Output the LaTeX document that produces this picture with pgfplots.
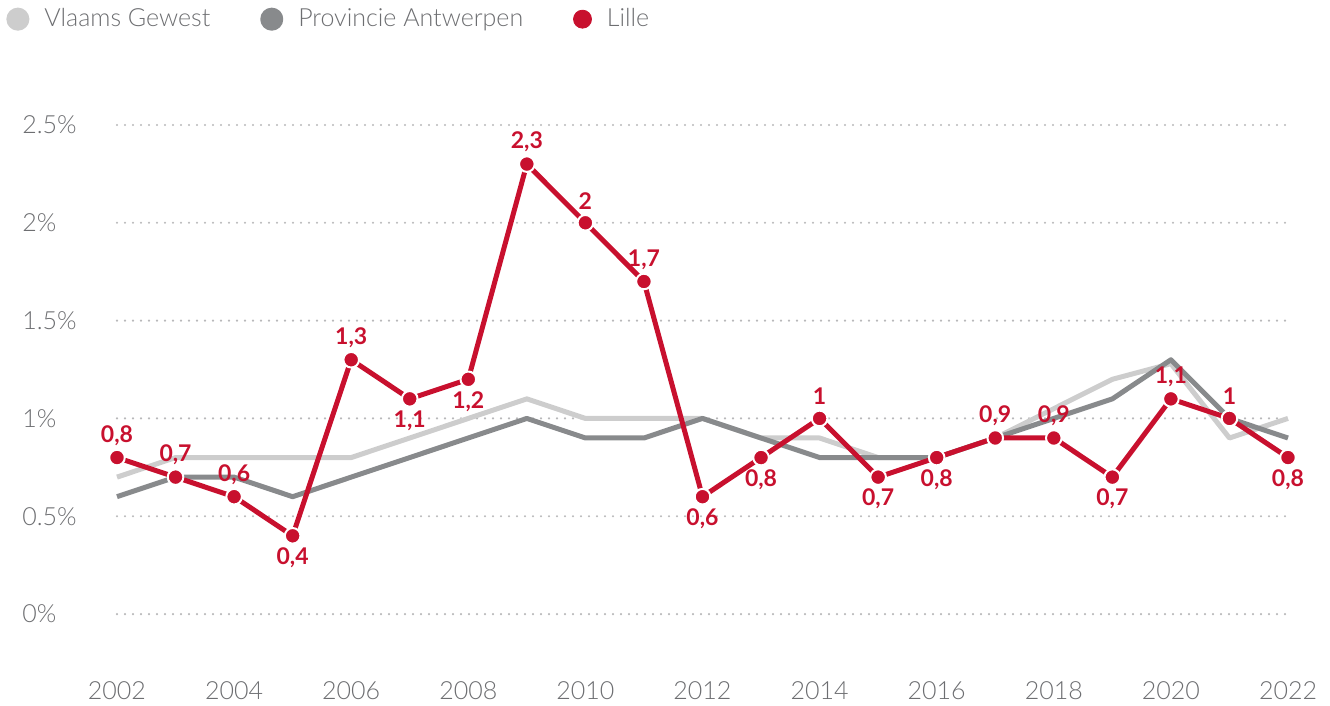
\documentclass[border=0pt]{standalone}
\usepackage{fontspec}
\setmainfont{Lato}[UprightFont=* Light, BoldFont=* Bold]
\usepackage{pgfplots}
\usepackage{pgfplotstable}
\pgfplotsset{compat=1.18}
\definecolor{vg}{HTML}{CDCDCD}
\definecolor{pa}{HTML}{888A8C}
\definecolor{li}{HTML}{C8102E}
\definecolor{txt}{HTML}{6D6E71}
\definecolor{grd}{HTML}{B8B8BA}
\pgfplotstableread{
x vg pa li pos lab
2002 0.7 0.6 0.8 1 0,8
2003 0.8 0.7 0.7 1 0,7
2004 0.8 0.7 0.6 1 0,6
2005 0.8 0.6 0.4 -1 0,4
2006 0.8 0.7 1.3 1 1,3
2007 0.9 0.8 1.1 -1 1,1
2008 1.0 0.9 1.2 -1 1,2
2009 1.1 1.0 2.3 1 2,3
2010 1.0 0.9 2.0 1 2
2011 1.0 0.9 1.7 1 1,7
2012 1.0 1.0 0.6 -1 0,6
2013 0.9 0.9 0.8 -1 0,8
2014 0.9 0.8 1.0 1 1
2015 0.8 0.8 0.7 -1 0,7
2016 0.8 0.8 0.8 -1 0,8
2017 0.9 0.9 0.9 1 0,9
2018 1.05 1.0 0.9 1 0,9
2019 1.2 1.1 0.7 -1 0,7
2020 1.28 1.3 1.1 1 1,1
2021 0.9 1.0 1.0 1 1
2022 1.0 0.9 0.8 -1 0,8
}\data
\begin{document}
\begin{tikzpicture}
\useasboundingbox (0,0) rectangle (665pt,353pt);
\begin{axis}[
  at={(58.5pt,21.5pt)}, anchor=south west,
  scale only axis, width=585.5pt, height=278.8pt,
  xmin=2002, xmax=2022, ymin=-0.25, ymax=2.6,
  clip=false,
  axis line style={draw=none},
  major tick length=0pt,
  xtick={2002,2004,...,2022},
  xticklabels={2002,2004,2006,2008,2010,2012,2014,2016,2018,2020,2022},
  ytick={0,0.5,1,1.5,2,2.5},
  yticklabels={0\%,0.5\%,1\%,1.5\%,2\%,2.5\%},
  /pgf/number format/assume math mode=true,
  ticklabel style={font=\fontsize{12.5}{14}\selectfont, text=txt},
  xticklabel style={inner sep=0pt, anchor=north, yshift=-9pt},
  yticklabel style={inner sep=0pt, anchor=west, xshift=-47.5pt},
  ymajorgrids,
  grid style={draw=grd, line width=1.2pt, line cap=round, dash pattern=on 0pt off 4pt},
  legend columns=-1,
  legend style={at={(axis description cs:-0.0948,1.176)}, anchor=north west, draw=none, fill=none, inner sep=0pt,
    font=\fontsize{12.5}{14}\selectfont, text=txt,
    nodes={inner sep=0pt, anchor=west},
    /tikz/every odd column/.append style={column sep=7.5pt},
    /tikz/every even column/.append style={column sep=25pt}},
  legend image code/.code={\fill (4.5pt,0pt) circle (4.5pt);},
]
\addplot[vg, line width=2.5pt, line join=round] table[x=x, y=vg] {\data};
\addlegendentry{Vlaams Gewest}
\addplot[pa, line width=2.5pt, line join=round] table[x=x, y=pa] {\data};
\addlegendentry{Provincie Antwerpen}
\addplot[li, line width=2.5pt, line join=round, mark=*, mark size=3.9pt,
  mark options={fill=li, draw=white, line width=1pt, solid},
  forget plot,
  point meta=explicit symbolic,
  visualization depends on={\thisrow{pos} \as \lpos},
  nodes near coords,
  every node near coord/.append style={anchor=center, yshift=\lpos*11pt, text=li,
    font=\fontsize{11.5}{13}\selectfont\bfseries, inner sep=0pt},
] table[x=x, y=li, meta=lab] {\data};
\addlegendimage{li}
\addlegendentry{Lille}
\end{axis}
\end{tikzpicture}
\end{document}
